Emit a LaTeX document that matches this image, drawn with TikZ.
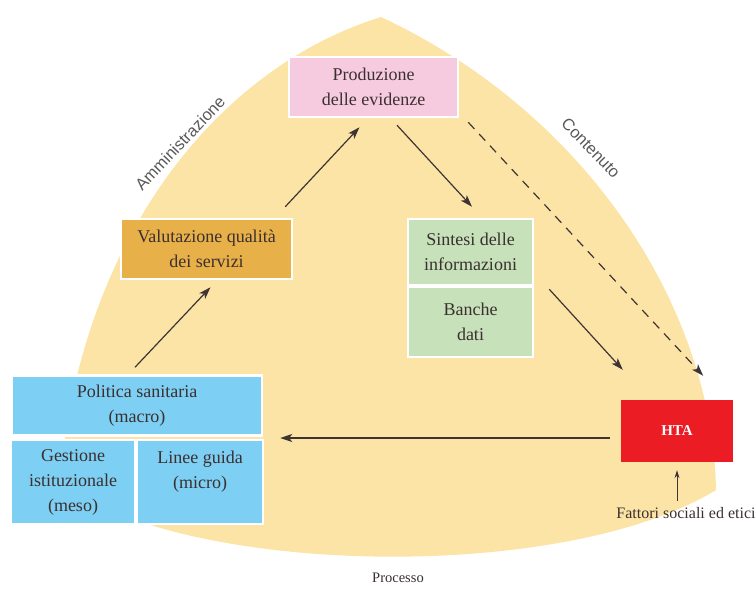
\documentclass[tikz,border=0pt]{standalone}
\usepackage{fontspec}
\setmainfont{Liberation Serif}
\setsansfont{Liberation Sans}
\usetikzlibrary{arrows.meta}

\definecolor{fondo}{HTML}{FCE4A6}
\definecolor{rosa}{HTML}{F7CBDF}
\definecolor{arancio}{HTML}{E8B048}
\definecolor{verde}{HTML}{C7E1BA}
\definecolor{azzurro}{HTML}{7ECFF4}
\definecolor{rosso}{HTML}{EC1C24}
\definecolor{testo}{HTML}{3B3030}
\definecolor{linea}{HTML}{3E3434}

\tikzset{
  box/.style={rectangle, draw=white, line width=2.5pt, inner sep=0pt,
    align=center, text=testo, font=\fontsize{18}{25}\selectfont},
  freccia/.style={-{Stealth[length=12pt,width=8pt,inset=3pt]}, line width=1.2pt, draw=linea},
  lato/.style={font=\sffamily\fontsize{16.5}{18}\selectfont, text=black!65}
}

\begin{document}
\begin{tikzpicture}[x=1pt,y=-1pt]
    \useasboundingbox (0,0) rectangle (756,590);
    % fondo a triangolo curvo
    \fill[fondo] (381,17) .. controls (205,72) and (78,255) .. (60,482)
        .. controls (180,575) and (560,585) .. (716,490)
        .. controls (712,300) and (580,110) .. (381,17) -- cycle;

    \node (produzione) at (373.5,87) [box, fill=rosa, minimum width=169pt, minimum height=60pt] {Produzione\\delle evidenze};
    \node (valutazione) at (206.5,249) [box, fill=arancio, minimum width=171pt, minimum height=60pt] {Valutazione qualità\\dei servizi};
    \node (sintesi) at (470.5,252) [box, fill=verde, minimum width=125pt, minimum height=66pt] {Sintesi delle\\informazioni};
    \node (banche) at (470.5,322) [box, fill=verde, minimum width=125pt, minimum height=70pt] {Banche\\dati};
    \node (politica) at (137,405.5) [box, fill=azzurro, minimum width=250pt, minimum height=60pt] {Politica sanitaria\\(macro)};
    \node (gestione) at (73,482) [box, fill=azzurro, minimum width=124pt, minimum height=84pt] {Gestione\\istituzionale\\(meso)};
    \node (linee) at (200,482) [box, fill=azzurro, minimum width=126pt, minimum height=84pt] {Linee guida\\(micro)\\\mbox{}};
    \node (hta) at (677,431) [rectangle, fill=rosso, minimum width=112pt, minimum height=62pt, text=white, font=\bfseries\fontsize{15}{16}\selectfont] {HTA};
    \node (fattori) at (686,513) [text=testo, font=\fontsize{16}{18}\selectfont] {Fattori sociali ed etici};

    \node (amministrazione) at (180,143) [lato, rotate=46.5] {Amministrazione};
    \node (contenuto) at (591,148) [lato, rotate=-46] {Contenuto};
    \node (processo) at (398,578) [text=testo, font=\fontsize{14.5}{16}\selectfont] {Processo};

    \draw[freccia] ([xshift=-2pt,yshift=7pt]politica.north) -- ([xshift=4pt,yshift=-7pt]valutazione.south);
    \draw[freccia] ([xshift=-8pt,yshift=11pt]valutazione.north east) -- ([xshift=-14pt,yshift=-9pt]produzione.south);
    \draw[freccia] ([xshift=23.5pt,yshift=-7pt]produzione.south) -- ([xshift=1.5pt,yshift=11pt]sintesi.north);
    \draw[freccia] ([xshift=15pt,yshift=-3pt]sintesi.south east) -- ([xshift=2pt,yshift=30pt]hta.north west);
    \draw[freccia, dash pattern=on 9pt off 7pt] ([xshift=9pt,yshift=-4pt]produzione.south east) -- ([xshift=-30pt,yshift=24pt]hta.north east);
    \draw[freccia] ([xshift=-11pt,yshift=-7pt]hta.west) -- ([xshift=17pt,yshift=-1.25pt]politica.south east);
    \draw[freccia, -{Stealth[length=8pt,width=5pt]}, line width=1pt] ([yshift=3pt]fattori.north -| hta.south) -- ([yshift=-8pt]hta.south);
\end{tikzpicture}
\end{document}
